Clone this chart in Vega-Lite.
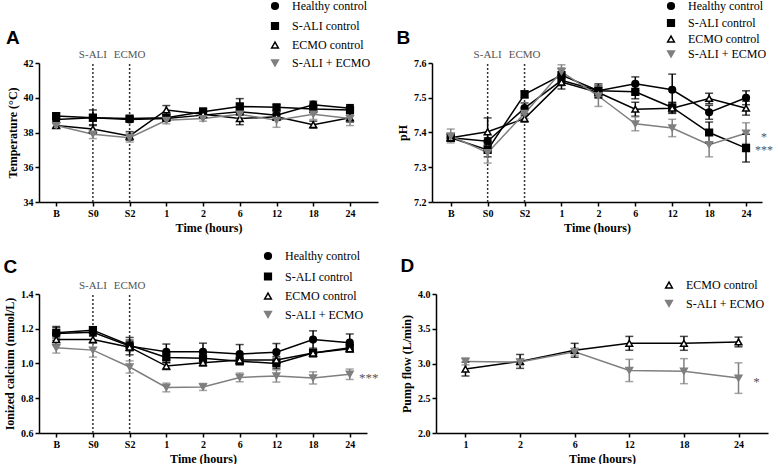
{
"$schema": "https://vega.github.io/schema/vega-lite/v6.json",
"padding": {"left": 3, "top": 0, "right": 0, "bottom": 0},
"config": {
  "view": {"stroke": null},
  "axis": {"labelFont": "Liberation Serif", "labelFontWeight": "bold", "labelFontSize": 10, "labelColor": "#000", "titleFont": "Liberation Serif", "titleFontWeight": "bold", "titleFontSize": 12, "titleColor": "#000", "domainColor": "#000", "domainWidth": 1.5, "tickColor": "#000", "tickWidth": 1.5, "tickSize": 4, "grid": false, "labelAngle": 0},
  "title": {"font": "Liberation Sans", "fontSize": 19, "fontWeight": "bold", "color": "#000", "anchor": "start", "frame": "bounds"},
  "legend": {"labelFont": "Liberation Serif", "labelFontSize": 12, "labelColor": "#000", "symbolStrokeWidth": 1.5, "symbolSize": 45, "labelOffset": 11, "padding": 0}
},
"datasets": {
  "temp": [
    {"series": "Healthy control", "time": "B", "mean": 38.75, "sem": 0.15},
    {"series": "Healthy control", "time": "S0", "mean": 38.85, "sem": 0.2},
    {"series": "Healthy control", "time": "S2", "mean": 38.75, "sem": 0.15},
    {"series": "Healthy control", "time": "1", "mean": 38.8, "sem": 0.15},
    {"series": "Healthy control", "time": "2", "mean": 39.0, "sem": 0.15},
    {"series": "Healthy control", "time": "6", "mean": 39.2, "sem": 0.2},
    {"series": "Healthy control", "time": "12", "mean": 39.0, "sem": 0.2},
    {"series": "Healthy control", "time": "18", "mean": 39.6, "sem": 0.2},
    {"series": "Healthy control", "time": "24", "mean": 39.4, "sem": 0.2},
    {"series": "S-ALI control", "time": "B", "mean": 38.95, "sem": 0.15},
    {"series": "S-ALI control", "time": "S0", "mean": 38.85, "sem": 0.45},
    {"series": "S-ALI control", "time": "S2", "mean": 38.8, "sem": 0.15},
    {"series": "S-ALI control", "time": "1", "mean": 38.85, "sem": 0.15},
    {"series": "S-ALI control", "time": "2", "mean": 39.2, "sem": 0.2},
    {"series": "S-ALI control", "time": "6", "mean": 39.5, "sem": 0.45},
    {"series": "S-ALI control", "time": "12", "mean": 39.45, "sem": 0.15},
    {"series": "S-ALI control", "time": "18", "mean": 39.35, "sem": 0.15},
    {"series": "S-ALI control", "time": "24", "mean": 39.3, "sem": 0.3},
    {"series": "ECMO control", "time": "B", "mean": 38.4, "sem": 0.15},
    {"series": "ECMO control", "time": "S0", "mean": 38.2, "sem": 0.25},
    {"series": "ECMO control", "time": "S2", "mean": 37.8, "sem": 0.25},
    {"series": "ECMO control", "time": "1", "mean": 39.3, "sem": 0.25},
    {"series": "ECMO control", "time": "2", "mean": 39.05, "sem": 0.15},
    {"series": "ECMO control", "time": "6", "mean": 38.8, "sem": 0.35},
    {"series": "ECMO control", "time": "12", "mean": 38.9, "sem": 0.2},
    {"series": "ECMO control", "time": "18", "mean": 38.45, "sem": 0.2},
    {"series": "ECMO control", "time": "24", "mean": 38.85, "sem": 0.25},
    {"series": "S-ALI + ECMO", "time": "B", "mean": 38.4, "sem": 0.1},
    {"series": "S-ALI + ECMO", "time": "S0", "mean": 37.9, "sem": 0.25},
    {"series": "S-ALI + ECMO", "time": "S2", "mean": 37.7, "sem": 0.25},
    {"series": "S-ALI + ECMO", "time": "1", "mean": 38.7, "sem": 0.2},
    {"series": "S-ALI + ECMO", "time": "2", "mean": 38.8, "sem": 0.15},
    {"series": "S-ALI + ECMO", "time": "6", "mean": 39.05, "sem": 0.2},
    {"series": "S-ALI + ECMO", "time": "12", "mean": 38.7, "sem": 0.4},
    {"series": "S-ALI + ECMO", "time": "18", "mean": 39.05, "sem": 0.3},
    {"series": "S-ALI + ECMO", "time": "24", "mean": 38.8, "sem": 0.4}
  ],
  "ph": [
    {"series": "Healthy control", "time": "B", "mean": 7.385, "sem": 0.01},
    {"series": "Healthy control", "time": "S0", "mean": 7.375, "sem": 0.01},
    {"series": "Healthy control", "time": "S2", "mean": 7.47, "sem": 0.015},
    {"series": "Healthy control", "time": "1", "mean": 7.55, "sem": 0.015},
    {"series": "Healthy control", "time": "2", "mean": 7.52, "sem": 0.015},
    {"series": "Healthy control", "time": "6", "mean": 7.54, "sem": 0.02},
    {"series": "Healthy control", "time": "12", "mean": 7.523, "sem": 0.045},
    {"series": "Healthy control", "time": "18", "mean": 7.458, "sem": 0.02},
    {"series": "Healthy control", "time": "24", "mean": 7.5, "sem": 0.02},
    {"series": "S-ALI control", "time": "B", "mean": 7.385, "sem": 0.01},
    {"series": "S-ALI control", "time": "S0", "mean": 7.35, "sem": 0.02},
    {"series": "S-ALI control", "time": "S2", "mean": 7.51, "sem": 0.01},
    {"series": "S-ALI control", "time": "1", "mean": 7.565, "sem": 0.02},
    {"series": "S-ALI control", "time": "2", "mean": 7.52, "sem": 0.02},
    {"series": "S-ALI control", "time": "6", "mean": 7.517, "sem": 0.02},
    {"series": "S-ALI control", "time": "12", "mean": 7.472, "sem": 0.015},
    {"series": "S-ALI control", "time": "18", "mean": 7.4, "sem": 0.03},
    {"series": "S-ALI control", "time": "24", "mean": 7.355, "sem": 0.04},
    {"series": "ECMO control", "time": "B", "mean": 7.385, "sem": 0.01},
    {"series": "ECMO control", "time": "S0", "mean": 7.402, "sem": 0.04},
    {"series": "ECMO control", "time": "S2", "mean": 7.44, "sem": 0.01},
    {"series": "ECMO control", "time": "1", "mean": 7.545, "sem": 0.02},
    {"series": "ECMO control", "time": "2", "mean": 7.515, "sem": 0.015},
    {"series": "ECMO control", "time": "6", "mean": 7.467, "sem": 0.02},
    {"series": "ECMO control", "time": "12", "mean": 7.47, "sem": 0.015},
    {"series": "ECMO control", "time": "18", "mean": 7.498, "sem": 0.015},
    {"series": "ECMO control", "time": "24", "mean": 7.47, "sem": 0.02},
    {"series": "S-ALI + ECMO", "time": "B", "mean": 7.39, "sem": 0.02},
    {"series": "S-ALI + ECMO", "time": "S0", "mean": 7.342, "sem": 0.03},
    {"series": "S-ALI + ECMO", "time": "S2", "mean": 7.455, "sem": 0.015},
    {"series": "S-ALI + ECMO", "time": "1", "mean": 7.575, "sem": 0.02},
    {"series": "S-ALI + ECMO", "time": "2", "mean": 7.505, "sem": 0.03},
    {"series": "S-ALI + ECMO", "time": "6", "mean": 7.425, "sem": 0.02},
    {"series": "S-ALI + ECMO", "time": "12", "mean": 7.413, "sem": 0.025},
    {"series": "S-ALI + ECMO", "time": "18", "mean": 7.365, "sem": 0.035},
    {"series": "S-ALI + ECMO", "time": "24", "mean": 7.398, "sem": 0.03}
  ],
  "ca": [
    {"series": "Healthy control", "time": "B", "mean": 1.173, "sem": 0.04},
    {"series": "Healthy control", "time": "S0", "mean": 1.18, "sem": 0.02},
    {"series": "Healthy control", "time": "S2", "mean": 1.1, "sem": 0.05},
    {"series": "Healthy control", "time": "1", "mean": 1.067, "sem": 0.045},
    {"series": "Healthy control", "time": "2", "mean": 1.067, "sem": 0.05},
    {"series": "Healthy control", "time": "6", "mean": 1.054, "sem": 0.055},
    {"series": "Healthy control", "time": "12", "mean": 1.065, "sem": 0.05},
    {"series": "Healthy control", "time": "18", "mean": 1.138, "sem": 0.05},
    {"series": "Healthy control", "time": "24", "mean": 1.12, "sem": 0.05},
    {"series": "S-ALI control", "time": "B", "mean": 1.177, "sem": 0.03},
    {"series": "S-ALI control", "time": "S0", "mean": 1.192, "sem": 0.02},
    {"series": "S-ALI control", "time": "S2", "mean": 1.105, "sem": 0.03},
    {"series": "S-ALI control", "time": "1", "mean": 1.035, "sem": 0.03},
    {"series": "S-ALI control", "time": "2", "mean": 1.03, "sem": 0.03},
    {"series": "S-ALI control", "time": "6", "mean": 1.013, "sem": 0.02},
    {"series": "S-ALI control", "time": "12", "mean": 1.0, "sem": 0.03},
    {"series": "S-ALI control", "time": "18", "mean": 1.06, "sem": 0.02},
    {"series": "S-ALI control", "time": "24", "mean": 1.09, "sem": 0.02},
    {"series": "ECMO control", "time": "B", "mean": 1.138, "sem": 0.03},
    {"series": "ECMO control", "time": "S0", "mean": 1.138, "sem": 0.02},
    {"series": "ECMO control", "time": "S2", "mean": 1.094, "sem": 0.02},
    {"series": "ECMO control", "time": "1", "mean": 0.985, "sem": 0.02},
    {"series": "ECMO control", "time": "2", "mean": 1.005, "sem": 0.02},
    {"series": "ECMO control", "time": "6", "mean": 1.02, "sem": 0.02},
    {"series": "ECMO control", "time": "12", "mean": 1.02, "sem": 0.02},
    {"series": "ECMO control", "time": "18", "mean": 1.06, "sem": 0.02},
    {"series": "ECMO control", "time": "24", "mean": 1.085, "sem": 0.02},
    {"series": "S-ALI + ECMO", "time": "B", "mean": 1.09, "sem": 0.03},
    {"series": "S-ALI + ECMO", "time": "S0", "mean": 1.077, "sem": 0.04},
    {"series": "S-ALI + ECMO", "time": "S2", "mean": 0.98, "sem": 0.035},
    {"series": "S-ALI + ECMO", "time": "1", "mean": 0.862, "sem": 0.025},
    {"series": "S-ALI + ECMO", "time": "2", "mean": 0.865, "sem": 0.02},
    {"series": "S-ALI + ECMO", "time": "6", "mean": 0.92, "sem": 0.025},
    {"series": "S-ALI + ECMO", "time": "12", "mean": 0.928, "sem": 0.035},
    {"series": "S-ALI + ECMO", "time": "18", "mean": 0.917, "sem": 0.035},
    {"series": "S-ALI + ECMO", "time": "24", "mean": 0.938, "sem": 0.03}
  ],
  "flow": [
    {"series": "ECMO control", "time": "1", "mean": 2.92, "sem": 0.1},
    {"series": "ECMO control", "time": "2", "mean": 3.03, "sem": 0.1},
    {"series": "ECMO control", "time": "6", "mean": 3.19, "sem": 0.1},
    {"series": "ECMO control", "time": "12", "mean": 3.29, "sem": 0.1},
    {"series": "ECMO control", "time": "18", "mean": 3.29, "sem": 0.1},
    {"series": "ECMO control", "time": "24", "mean": 3.31, "sem": 0.07},
    {"series": "S-ALI + ECMO", "time": "1", "mean": 3.03, "sem": 0.05},
    {"series": "S-ALI + ECMO", "time": "2", "mean": 3.02, "sem": 0.05},
    {"series": "S-ALI + ECMO", "time": "6", "mean": 3.17, "sem": 0.05},
    {"series": "S-ALI + ECMO", "time": "12", "mean": 2.9, "sem": 0.16},
    {"series": "S-ALI + ECMO", "time": "18", "mean": 2.89, "sem": 0.18},
    {"series": "S-ALI + ECMO", "time": "24", "mean": 2.79, "sem": 0.22}
  ],
  "evt": [
    {"time": "S0", "label": "S-ALI"},
    {"time": "S2", "label": "ECMO"}
  ]
},
"resolve": {"scale": {"shape": "independent", "fill": "independent", "stroke": "independent"}, "legend": {"shape": "independent", "fill": "independent", "stroke": "independent"}},
"spacing": 17,
"vconcat": [
  {
    "resolve": {"scale": {"shape": "independent", "fill": "independent", "stroke": "independent"}, "legend": {"shape": "independent", "fill": "independent", "stroke": "independent"}},
    "bounds": "flush",
    "spacing": 54,
    "hconcat": [
      {
        "width": 339, "height": 139,
        "title": {"text": "A", "offset": -48},
        "encoding": {
          "x": {"field": "time", "type": "ordinal", "scale": {"type": "point", "domain": ["B", "S0", "S2", "1", "2", "6", "12", "18", "24"], "padding": 0.615, "align": 0.38}, "axis": {"title": "Time (hours)"}}
        },
        "layer": [
          {"data": {"name": "evt"}, "mark": {"type": "rule", "strokeDash": [2, 2], "color": "#333", "strokeWidth": 1.5}, "encoding": {"y": {"datum": 34, "type": "quantitative", "scale": {"domain": [34, 42], "nice": false, "zero": false}, "axis": {"title": "Temperature (°C)", "values": [34, 36, 38, 40, 42], "format": "d"}}, "y2": {"datum": 42}}},
          {"data": {"name": "evt"}, "mark": {"type": "text", "font": "Liberation Serif", "fontSize": 11, "color": "#555", "baseline": "bottom", "dy": -3}, "encoding": {"y": {"datum": 42, "type": "quantitative", "scale": {"domain": [34, 42], "nice": false, "zero": false}, "axis": {"title": "Temperature (°C)", "values": [34, 36, 38, 40, 42], "format": "d"}}, "text": {"field": "label"}}},
          {"data": {"name": "temp"}, "mark": {"type": "line", "strokeWidth": 1.5}, "encoding": {"y": {"field": "mean", "type": "quantitative", "scale": {"domain": [34, 42], "nice": false, "zero": false}, "axis": {"title": "Temperature (°C)", "values": [34, 36, 38, 40, 42], "format": "d"}}, "detail": {"field": "series"}, "color": {"condition": {"test": "datum.series === 'S-ALI + ECMO'", "value": "#7f7f7f"}, "value": "#000"}, "order": {"value": null}}},
          {"data": {"name": "temp"}, "mark": {"type": "errorbar", "ticks": {"size": 8}, "thickness": 1.5}, "encoding": {"y": {"field": "mean", "type": "quantitative", "scale": {"domain": [34, 42], "nice": false, "zero": false}, "axis": {"title": "Temperature (°C)", "values": [34, 36, 38, 40, 42], "format": "d"}}, "yError": {"field": "sem"}, "detail": {"field": "series"}, "color": {"condition": {"test": "datum.series === 'S-ALI + ECMO'", "value": "#7f7f7f"}, "value": "#000"}}},
          {"data": {"name": "temp"}, "mark": {"type": "point", "size": 45, "strokeWidth": 1.5, "opacity": 1, "filled": true}, "encoding": {
            "y": {"field": "mean", "type": "quantitative", "scale": {"domain": [34, 42], "nice": false, "zero": false}, "axis": {"title": "Temperature (°C)", "values": [34, 36, 38, 40, 42], "format": "d"}},
            "shape": {"field": "series", "type": "nominal", "scale": {"domain": ["Healthy control", "S-ALI control", "ECMO control", "S-ALI + ECMO"], "range": ["circle", "square", "triangle-up", "triangle-down"]}, "legend": {"title": null, "orient": "none", "legendX": 230, "legendY": -63, "rowPadding": 6}},
            "fill": {"field": "series", "type": "nominal", "scale": {"domain": ["Healthy control", "S-ALI control", "ECMO control", "S-ALI + ECMO"], "range": ["#000", "#000", "#fff", "#7f7f7f"]}, "legend": {"title": null, "orient": "none", "legendX": 230, "legendY": -63, "rowPadding": 6}},
            "stroke": {"field": "series", "type": "nominal", "scale": {"domain": ["Healthy control", "S-ALI control", "ECMO control", "S-ALI + ECMO"], "range": ["#000", "#000", "#000", "#7f7f7f"]}, "legend": {"title": null, "orient": "none", "legendX": 230, "legendY": -63, "rowPadding": 6}}
          }}
        ]
      },
      {
        "width": 330, "height": 139,
        "title": {"text": "B", "offset": -48},
        "encoding": {
          "x": {"field": "time", "type": "ordinal", "scale": {"type": "point", "domain": ["B", "S0", "S2", "1", "2", "6", "12", "18", "24"], "padding": 0.47, "align": 0.54}, "axis": {"title": "Time (hours)"}}
        },
        "layer": [
          {"data": {"name": "evt"}, "mark": {"type": "rule", "strokeDash": [2, 2], "color": "#333", "strokeWidth": 1.5}, "encoding": {"y": {"datum": 7.2, "type": "quantitative", "scale": {"domain": [7.2, 7.6], "nice": false, "zero": false}, "axis": {"title": "pH", "values": [7.2, 7.3, 7.4, 7.5, 7.6], "format": ".1f"}}, "y2": {"datum": 7.6}}},
          {"data": {"name": "evt"}, "mark": {"type": "text", "font": "Liberation Serif", "fontSize": 11, "color": "#555", "baseline": "bottom", "dy": -3}, "encoding": {"y": {"datum": 7.6, "type": "quantitative", "scale": {"domain": [7.2, 7.6], "nice": false, "zero": false}, "axis": {"title": "pH", "values": [7.2, 7.3, 7.4, 7.5, 7.6], "format": ".1f"}}, "text": {"field": "label"}}},
          {"data": {"name": "ph"}, "mark": {"type": "line", "strokeWidth": 1.5}, "encoding": {"y": {"field": "mean", "type": "quantitative", "scale": {"domain": [7.2, 7.6], "nice": false, "zero": false}, "axis": {"title": "pH", "values": [7.2, 7.3, 7.4, 7.5, 7.6], "format": ".1f"}}, "detail": {"field": "series"}, "color": {"condition": {"test": "datum.series === 'S-ALI + ECMO'", "value": "#7f7f7f"}, "value": "#000"}, "order": {"value": null}}},
          {"data": {"name": "ph"}, "mark": {"type": "errorbar", "ticks": {"size": 8}, "thickness": 1.5}, "encoding": {"y": {"field": "mean", "type": "quantitative", "scale": {"domain": [7.2, 7.6], "nice": false, "zero": false}, "axis": {"title": "pH", "values": [7.2, 7.3, 7.4, 7.5, 7.6], "format": ".1f"}}, "yError": {"field": "sem"}, "detail": {"field": "series"}, "color": {"condition": {"test": "datum.series === 'S-ALI + ECMO'", "value": "#7f7f7f"}, "value": "#000"}}},
          {"data": {"name": "ph"}, "mark": {"type": "point", "size": 45, "strokeWidth": 1.5, "opacity": 1, "filled": true}, "encoding": {
            "y": {"field": "mean", "type": "quantitative", "scale": {"domain": [7.2, 7.6], "nice": false, "zero": false}, "axis": {"title": "pH", "values": [7.2, 7.3, 7.4, 7.5, 7.6], "format": ".1f"}},
            "shape": {"field": "series", "type": "nominal", "scale": {"domain": ["Healthy control", "S-ALI control", "ECMO control", "S-ALI + ECMO"], "range": ["circle", "square", "triangle-up", "triangle-down"]}, "legend": {"title": null, "orient": "none", "legendX": 233, "legendY": -63, "rowPadding": 3}},
            "fill": {"field": "series", "type": "nominal", "scale": {"domain": ["Healthy control", "S-ALI control", "ECMO control", "S-ALI + ECMO"], "range": ["#000", "#000", "#fff", "#7f7f7f"]}, "legend": {"title": null, "orient": "none", "legendX": 233, "legendY": -63, "rowPadding": 3}},
            "stroke": {"field": "series", "type": "nominal", "scale": {"domain": ["Healthy control", "S-ALI control", "ECMO control", "S-ALI + ECMO"], "range": ["#000", "#000", "#000", "#7f7f7f"]}, "legend": {"title": null, "orient": "none", "legendX": 233, "legendY": -63, "rowPadding": 3}}
          }},
          {"data": {"values": [{"time": "24", "mean": 7.4, "label": "*"}, {"time": "24", "mean": 7.362, "label": "***"}]}, "mark": {"type": "text", "font": "Liberation Serif", "fontSize": 12, "color": "#555", "dx": 18, "dy": 4}, "encoding": {"y": {"field": "mean", "type": "quantitative", "scale": {"domain": [7.2, 7.6], "nice": false, "zero": false}, "axis": {"title": "pH", "values": [7.2, 7.3, 7.4, 7.5, 7.6], "format": ".1f"}}, "text": {"field": "label"}}}
        ]
      }
    ]
  },
  {
    "resolve": {"scale": {"shape": "independent", "fill": "independent", "stroke": "independent"}, "legend": {"shape": "independent", "fill": "independent", "stroke": "independent"}},
    "bounds": "flush",
    "spacing": 69,
    "hconcat": [
      {
        "width": 328, "height": 139,
        "title": {"text": "C", "offset": -27},
        "encoding": {
          "x": {"field": "time", "type": "ordinal", "scale": {"type": "point", "domain": ["B", "S0", "S2", "1", "2", "6", "12", "18", "24"], "padding": 0.47, "align": 0.5}, "axis": {"title": "Time (hours)"}}
        },
        "layer": [
          {"data": {"name": "evt"}, "mark": {"type": "rule", "strokeDash": [2, 2], "color": "#333", "strokeWidth": 1.5}, "encoding": {"y": {"datum": 0.6, "type": "quantitative", "scale": {"domain": [0.6, 1.4], "nice": false, "zero": false}, "axis": {"title": "Ionized calcium (mmol/L)", "values": [0.6, 0.8, 1.0, 1.2, 1.4], "format": ".1f"}}, "y2": {"datum": 1.4}}},
          {"data": {"name": "evt"}, "mark": {"type": "text", "font": "Liberation Serif", "fontSize": 11, "color": "#555", "baseline": "bottom", "dy": -3}, "encoding": {"y": {"datum": 1.4, "type": "quantitative", "scale": {"domain": [0.6, 1.4], "nice": false, "zero": false}, "axis": {"title": "Ionized calcium (mmol/L)", "values": [0.6, 0.8, 1.0, 1.2, 1.4], "format": ".1f"}}, "text": {"field": "label"}}},
          {"data": {"name": "ca"}, "mark": {"type": "line", "strokeWidth": 1.5}, "encoding": {"y": {"field": "mean", "type": "quantitative", "scale": {"domain": [0.6, 1.4], "nice": false, "zero": false}, "axis": {"title": "Ionized calcium (mmol/L)", "values": [0.6, 0.8, 1.0, 1.2, 1.4], "format": ".1f"}}, "detail": {"field": "series"}, "color": {"condition": {"test": "datum.series === 'S-ALI + ECMO'", "value": "#7f7f7f"}, "value": "#000"}, "order": {"value": null}}},
          {"data": {"name": "ca"}, "mark": {"type": "errorbar", "ticks": {"size": 8}, "thickness": 1.5}, "encoding": {"y": {"field": "mean", "type": "quantitative", "scale": {"domain": [0.6, 1.4], "nice": false, "zero": false}, "axis": {"title": "Ionized calcium (mmol/L)", "values": [0.6, 0.8, 1.0, 1.2, 1.4], "format": ".1f"}}, "yError": {"field": "sem"}, "detail": {"field": "series"}, "color": {"condition": {"test": "datum.series === 'S-ALI + ECMO'", "value": "#7f7f7f"}, "value": "#000"}}},
          {"data": {"name": "ca"}, "mark": {"type": "point", "size": 45, "strokeWidth": 1.5, "opacity": 1, "filled": true}, "encoding": {
            "y": {"field": "mean", "type": "quantitative", "scale": {"domain": [0.6, 1.4], "nice": false, "zero": false}, "axis": {"title": "Ionized calcium (mmol/L)", "values": [0.6, 0.8, 1.0, 1.2, 1.4], "format": ".1f"}},
            "shape": {"field": "series", "type": "nominal", "scale": {"domain": ["Healthy control", "S-ALI control", "ECMO control", "S-ALI + ECMO"], "range": ["circle", "square", "triangle-up", "triangle-down"]}, "legend": {"title": null, "orient": "none", "legendX": 223, "legendY": -44, "rowPadding": 6.5}},
            "fill": {"field": "series", "type": "nominal", "scale": {"domain": ["Healthy control", "S-ALI control", "ECMO control", "S-ALI + ECMO"], "range": ["#000", "#000", "#fff", "#7f7f7f"]}, "legend": {"title": null, "orient": "none", "legendX": 223, "legendY": -44, "rowPadding": 6.5}},
            "stroke": {"field": "series", "type": "nominal", "scale": {"domain": ["Healthy control", "S-ALI control", "ECMO control", "S-ALI + ECMO"], "range": ["#000", "#000", "#000", "#7f7f7f"]}, "legend": {"title": null, "orient": "none", "legendX": 223, "legendY": -44, "rowPadding": 6.5}}
          }},
          {"data": {"values": [{"time": "24", "mean": 0.938, "label": "***"}]}, "mark": {"type": "text", "font": "Liberation Serif", "fontSize": 13, "color": "#555", "dx": 19, "dy": 4}, "encoding": {"y": {"field": "mean", "type": "quantitative", "scale": {"domain": [0.6, 1.4], "nice": false, "zero": false}, "axis": {"title": "Ionized calcium (mmol/L)", "values": [0.6, 0.8, 1.0, 1.2, 1.4], "format": ".1f"}}, "text": {"field": "label"}}}
        ]
      },
      {
        "width": 332, "height": 139,
        "title": {"text": "D", "offset": 3},
        "encoding": {
          "x": {"field": "time", "type": "ordinal", "scale": {"type": "point", "domain": ["1", "2", "6", "12", "18", "24"], "padding": 0.54, "align": 0.5}, "axis": {"title": "Time (hours)"}}
        },
        "layer": [
          {"data": {"name": "flow"}, "mark": {"type": "line", "strokeWidth": 1.5}, "encoding": {"y": {"field": "mean", "type": "quantitative", "scale": {"domain": [2, 4], "nice": false, "zero": false}, "axis": {"title": "Pump flow (L/min)", "values": [2, 2.5, 3, 3.5, 4], "format": ".1f"}}, "detail": {"field": "series"}, "color": {"condition": {"test": "datum.series === 'S-ALI + ECMO'", "value": "#7f7f7f"}, "value": "#000"}, "order": {"value": null}}},
          {"data": {"name": "flow"}, "mark": {"type": "errorbar", "ticks": {"size": 8}, "thickness": 1.5}, "encoding": {"y": {"field": "mean", "type": "quantitative", "scale": {"domain": [2, 4], "nice": false, "zero": false}, "axis": {"title": "Pump flow (L/min)", "values": [2, 2.5, 3, 3.5, 4], "format": ".1f"}}, "yError": {"field": "sem"}, "detail": {"field": "series"}, "color": {"condition": {"test": "datum.series === 'S-ALI + ECMO'", "value": "#7f7f7f"}, "value": "#000"}}},
          {"data": {"name": "flow"}, "mark": {"type": "point", "size": 45, "strokeWidth": 1.5, "opacity": 1, "filled": true}, "encoding": {
            "y": {"field": "mean", "type": "quantitative", "scale": {"domain": [2, 4], "nice": false, "zero": false}, "axis": {"title": "Pump flow (L/min)", "values": [2, 2.5, 3, 3.5, 4], "format": ".1f"}},
            "shape": {"field": "series", "type": "nominal", "scale": {"domain": ["ECMO control", "S-ALI + ECMO"], "range": ["triangle-up", "triangle-down"]}, "legend": {"title": null, "orient": "none", "legendX": 227, "legendY": -15, "rowPadding": 6.5}},
            "fill": {"field": "series", "type": "nominal", "scale": {"domain": ["ECMO control", "S-ALI + ECMO"], "range": ["#fff", "#7f7f7f"]}, "legend": {"title": null, "orient": "none", "legendX": 227, "legendY": -15, "rowPadding": 6.5}},
            "stroke": {"field": "series", "type": "nominal", "scale": {"domain": ["ECMO control", "S-ALI + ECMO"], "range": ["#000", "#7f7f7f"]}, "legend": {"title": null, "orient": "none", "legendX": 227, "legendY": -15, "rowPadding": 6.5}}
          }},
          {"data": {"values": [{"time": "24", "mean": 2.79, "label": "*"}]}, "mark": {"type": "text", "font": "Liberation Serif", "fontSize": 13, "color": "#555", "dx": 18, "dy": 4}, "encoding": {"y": {"field": "mean", "type": "quantitative", "scale": {"domain": [2, 4], "nice": false, "zero": false}, "axis": {"title": "Pump flow (L/min)", "values": [2, 2.5, 3, 3.5, 4], "format": ".1f"}}, "text": {"field": "label"}}}
        ]
      }
    ]
  }
]
}
